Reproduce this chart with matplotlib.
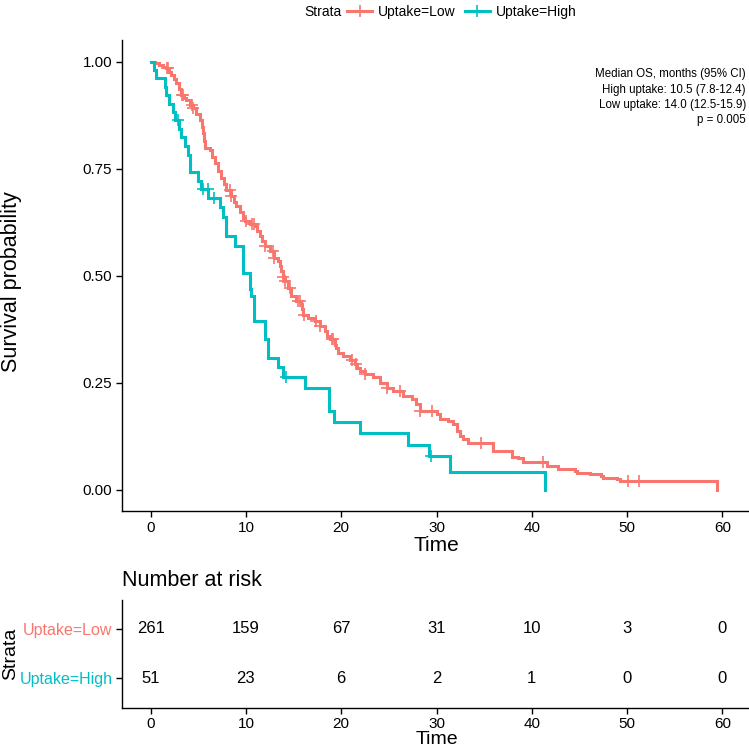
import numpy as np
import matplotlib
matplotlib.use("Agg")
import matplotlib.pyplot as plt
from matplotlib.lines import Line2D

plt.rcParams['font.family'] = ['Liberation Sans', 'DejaVu Sans']

# KM step points (time in months, survival)
low_t = [0, 0.5, 0.9, 1.3, 1.65, 1.95, 2.17, 2.45, 2.7, 2.95, 3.22, 3.5, 3.75, 4.1,
         4.45, 4.8, 5.15, 5.35, 5.5, 5.6, 5.67, 6.2, 6.45, 6.72, 7.05, 7.4, 7.7, 7.95,
         8.47, 8.75, 9.0, 9.35, 9.7, 9.9, 10.4, 10.92, 11.2, 11.45, 11.7, 11.97, 12.5,
         13.0, 13.37, 13.55, 13.7, 13.85, 14.07, 14.42, 14.77, 15.3, 15.83, 15.9, 16.0,
         16.5, 17.2, 17.75, 18.28, 18.55, 18.8, 19.33, 19.5, 19.68, 20.2, 20.9, 21.43,
         21.7, 21.95, 22.48, 23.35, 24.05, 24.76, 25.45, 26.5, 27.4, 27.9, 28.26, 30.0,
         30.4, 31.2, 31.75, 32.1, 32.5, 32.8, 33.3, 35.96, 37.9, 38.6, 39.1, 41.6, 42.8,
         44.5, 44.7, 46.1, 47.3, 47.5, 48.9, 49.3, 59.4]
low_s = [1.0, 0.996, 0.992, 0.988, 0.985, 0.977, 0.969, 0.960, 0.950, 0.937, 0.922, 0.915,
         0.911, 0.899, 0.891, 0.878, 0.864, 0.848, 0.833, 0.815, 0.798, 0.794, 0.778, 0.763,
         0.745, 0.728, 0.714, 0.701, 0.685, 0.673, 0.662, 0.648, 0.635, 0.627, 0.621, 0.615,
         0.604, 0.592, 0.580, 0.569, 0.557, 0.541, 0.534, 0.522, 0.510, 0.498, 0.487, 0.472,
         0.452, 0.440, 0.433, 0.421, 0.409, 0.402, 0.394, 0.382, 0.370, 0.360, 0.351, 0.339,
         0.330, 0.320, 0.312, 0.304, 0.293, 0.285, 0.277, 0.269, 0.262, 0.250, 0.238, 0.230,
         0.218, 0.211, 0.199, 0.184, 0.176, 0.164, 0.160, 0.153, 0.137, 0.125, 0.118, 0.110,
         0.090, 0.077, 0.073, 0.065, 0.056, 0.048, 0.044, 0.038, 0.036, 0.031, 0.026, 0.024,
         0.019, 0.0]
low_cens = [1.7, 1.8, 3.3, 3.45, 4.3, 4.45, 8.3, 8.47, 10.05, 10.6, 10.9, 12.0, 12.85, 13.0,
            13.9, 14.07, 14.6, 15.47, 15.65, 16.05, 17.4, 17.75, 19.0, 19.15, 21.1, 21.6,
            22.5, 24.76, 26.2, 28.3, 29.5, 34.7, 41.2, 50.1, 51.3]

high_t = [0, 0.35, 0.6, 1.47, 1.65, 1.92, 2.34, 2.52, 2.95, 3.22, 3.57, 3.92, 4.1, 4.97,
          5.33, 6.02, 7.25, 7.6, 7.95, 8.82, 9.7, 10.4, 10.5, 10.8, 10.9, 11.97, 12.3,
          13.37, 13.9, 16.18, 18.73, 19.22, 21.95, 27.03, 29.2, 31.4, 41.4]
high_s = [1.0, 0.980, 0.961, 0.941, 0.922, 0.902, 0.882, 0.863, 0.843, 0.823, 0.802, 0.782,
          0.742, 0.722, 0.702, 0.681, 0.660, 0.638, 0.592, 0.570, 0.506, 0.468, 0.452, 0.417,
          0.394, 0.351, 0.308, 0.286, 0.263, 0.237, 0.184, 0.158, 0.132, 0.105, 0.079, 0.040,
          0.0]
high_cens = [2.87, 5.5, 6.0, 6.7, 14.2, 29.4]

risk_times = [0, 10, 20, 30, 40, 50, 60]
risk_low = [261, 159, 67, 31, 10, 3, 0]
risk_high = [51, 23, 6, 2, 1, 0, 0]

strata = ['Uptake=Low', 'Uptake=High']
colors = ['#F8766D', '#00BFC4']
annot = ['Median OS, months (95% CI)', 'High uptake: 10.5 (7.8-12.4)',
         'Low uptake: 14.0 (12.5-15.9)', 'p = 0.005']

W, H = 749, 748
fig = plt.figure(figsize=(W / 100, H / 100), dpi=100)


def fx(px):
    return px / W


def fy(py):
    return 1 - py / H


ax = fig.add_axes([fx(122), fy(511), fx(751) - fx(122), fy(40.3) - fy(511)])

for t, s, c, col in [(low_t, low_s, low_cens, colors[0]), (high_t, high_s, high_cens, colors[1])]:
    t = np.array(t)
    s = np.array(s)
    ax.step(t, s, where='post', color=col, lw=2.2, solid_joinstyle='miter')
    idx = np.searchsorted(t, c, side='right') - 1
    ax.plot(c, s[idx], ls='none', marker='+', ms=8, mew=1.2, color=col)

ax.set_xlim(-3, 63)
ax.set_ylim(-0.05, 1.05)
ax.set_xticks(risk_times)
ax.set_yticks([0, 0.25, 0.5, 0.75, 1.0])
ax.set_yticklabels(['0.00', '0.25', '0.50', '0.75', '1.00'])
for a in ['top', 'right']:
    ax.spines[a].set_visible(False)
for a in ['left', 'bottom']:
    ax.spines[a].set_linewidth(1.0)
ax.tick_params(labelsize=11, length=4, width=1.0, colors='black', pad=3)
ax.set_xlabel('Time', fontsize=15, labelpad=1)
ax.set_ylabel('Survival probability', fontsize=15.5)
ax.yaxis.set_label_coords((22 - 122) / 629, (511 - 282) / 470.7)

for i, line in enumerate(annot):
    fig.text(fx(746), fy(74 + 15.5 * i), line, ha='right', va='center', fontsize=8.3)

# legend on top
fig.text(fx(304), fy(12), 'Strata', ha='left', va='center', fontsize=10)
handles = [Line2D([], [], color=c, lw=2.2, marker='+', ms=9, mew=1.2) for c in colors]
fig.legend(handles, strata, loc='center left', bbox_to_anchor=(fx(347), fy(12)), ncol=2,
           frameon=False, fontsize=10, handlelength=1.8, handletextpad=0.4,
           columnspacing=0.7, borderaxespad=0, borderpad=0)

# risk table
rt = fig.add_axes([fx(122), fy(707.5), fx(751) - fx(122), fy(599.5) - fy(707.5)])
for yv, vals in [(2, risk_low), (1, risk_high)]:
    for x, v in zip(risk_times, vals):
        rt.text(x, yv, str(v), ha='center', va='center', fontsize=12)
rt.set_xlim(-3, 63)
rt.set_ylim(0.4, 2.6)
rt.set_xticks(risk_times)
rt.set_yticks([2, 1])
rt.set_yticklabels(strata)
for lab, col in zip(rt.get_yticklabels(), colors):
    lab.set_color(col)
for a in ['top', 'right']:
    rt.spines[a].set_visible(False)
for a in ['left', 'bottom']:
    rt.spines[a].set_linewidth(1.0)
rt.tick_params(labelsize=11.5, length=4, width=1.0, pad=3)
rt.tick_params(axis='x', colors='black', labelsize=11)
rt.set_xlabel('Time', fontsize=14, labelpad=0)
rt.set_ylabel('Strata', fontsize=14)
rt.yaxis.set_label_coords((19 - 122) / 629, 0.5)
rt.set_title('Number at risk', loc='left', fontsize=15.5, pad=10)

fig.savefig('out.png', dpi=100)
